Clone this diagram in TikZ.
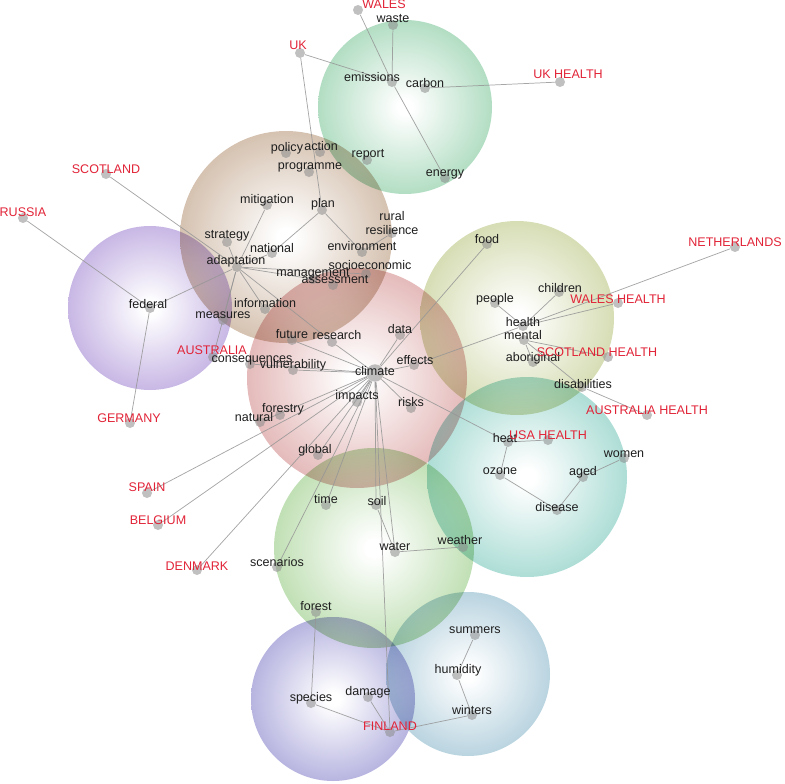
\documentclass[tikz,border=0pt]{standalone}
\usepackage{fontspec}
\setmainfont{Liberation Sans}
\usetikzlibrary{positioning}

\definecolor{wordgray}{RGB}{30,30,30}
\definecolor{placered}{RGB}{225,35,55}
\definecolor{linegray}{RGB}{150,150,150}
\definecolor{dotgray}{RGB}{140,140,140}
\definecolor{carbonGreen}{RGB}{95,185,130}
\definecolor{adaptBrown}{RGB}{168,128,92}
\definecolor{federalPurple}{RGB}{140,105,200}
\definecolor{climateRed}{RGB}{200,112,112}
\definecolor{healthOlive}{RGB}{170,185,100}
\definecolor{heatTeal}{RGB}{85,185,170}
\definecolor{waterGreen}{RGB}{125,190,100}
\definecolor{speciesBlue}{RGB}{105,100,190}
\definecolor{humidityBlue}{RGB}{110,165,190}

\colorlet{bubble}{climateRed}
\pgfdeclareradialshading[bubble]{bubbleshade}{\pgfpoint{0bp}{0bp}}%
  {color(0bp)=(white); color(2bp)=(white); color(50bp)=(bubble)}

\tikzset{
  bubble tint/.code={\colorlet{bubble}{#1}},
  bubble/.style={shading=bubbleshade, bubble tint=#1, opacity=1, blend mode=multiply},
  dot/.style={circle, fill=dotgray, fill opacity=0.55, inner sep=0pt, minimum size=7.5pt},
  word/.style={text=wordgray, font=\fontsize{9.4}{10}\selectfont, inner sep=0pt},
  place/.style={word, text=placered}
}

\begin{document}
\begin{tikzpicture}[x=0.75pt,y=-0.75pt]
	\useasboundingbox (0,0) rectangle (785,784);

	% clusters
	\shade[bubble=carbonGreen] (405,107) circle (87);
	\shade[bubble=adaptBrown] (286,237) circle (106);
	\shade[bubble=federalPurple] (150,308) circle (82);
	\shade[bubble=climateRed] (357,378) circle (110);
	\shade[bubble=healthOlive] (517,318) circle (97);
	\shade[bubble=heatTeal] (527,477) circle (100);
	\shade[bubble=waterGreen] (374,548) circle (100);
	\shade[bubble=speciesBlue] (333,699) circle (82);
	\shade[bubble=humidityBlue] (468,674) circle (82);

	\begin{scope}[every node/.style={dot}]
		\node (wales) at (358,10) {};
		\node (waste) at (393,25) {};
		\node (uk) at (300,53) {};
		\node (emissions) at (392,82) {};
		\node (carbon) at (425,88) {};
		\node (ukhealth) at (560,82) {};
		\node (report) at (367,160) {};
		\node (energy) at (445,178) {};
		\node (policy) at (286,153) {};
		\node (action) at (320,152) {};
		\node (programme) at (309,172) {};
		\node (scotland) at (106,174) {};
		\node (russia) at (23,218) {};
		\node (mitigation) at (267,205) {};
		\node (plan) at (322,210) {};
		\node (resilience) at (392,233) {};
		\node (strategy) at (227,242) {};
		\node (national) at (272,253) {};
		\node (environment) at (362,252) {};
		\node (adaptation) at (237,267) {};
		\node (socioeconomic) at (366,274) {};
		\node (management) at (313,279) {};
		\node (assessment) at (333,285) {};
		\node (federal) at (150,308) {};
		\node (information) at (265,309) {};
		\node (measures) at (223,320) {};
		\node (australia) at (213,357) {};
		\node (future) at (292,340) {};
		\node (research) at (332,342) {};
		\node (data) at (400,335) {};
		\node (consequences) at (250,364) {};
		\node (vulnerability) at (293,370) {};
		\node[minimum size=13pt] (climate) at (375,373) {};
		\node (effects) at (414,365) {};
		\node (impacts) at (357,402) {};
		\node (risks) at (411,408) {};
		\node (forestry) at (280,415) {};
		\node (natural) at (260,422) {};
		\node (global) at (318,455) {};
		\node (germany) at (130,423) {};
		\node (spain) at (147,493) {};
		\node (belgium) at (158,525) {};
		\node (denmark) at (197,570) {};
		\node (food) at (487,244) {};
		\node (netherlands) at (735,247) {};
		\node (children) at (559,292) {};
		\node (people) at (495,303) {};
		\node (waleshealth) at (618,303) {};
		\node (health) at (523,326) {};
		\node (mental) at (524,340) {};
		\node (aboriginal) at (533,362) {};
		\node (scotlandhealth) at (608,357) {};
		\node (disabilities) at (582,387) {};
		\node (australiahealth) at (647,415) {};
		\node (heat) at (508,442) {};
		\node (usahealth) at (548,440) {};
		\node (women) at (624,458) {};
		\node (ozone) at (500,475) {};
		\node (aged) at (583,477) {};
		\node (disease) at (557,510) {};
		\node (time) at (326,505) {};
		\node (soil) at (376,505) {};
		\node (water) at (395,552) {};
		\node (weather) at (463,547) {};
		\node (scenarios) at (277,567) {};
		\node (forest) at (316,612) {};
		\node (summers) at (475,635) {};
		\node (humidity) at (457,675) {};
		\node (species) at (311,703) {};
		\node (damage) at (368,697) {};
		\node (winters) at (472,715) {};
		\node (finland) at (390,732) {};
	\end{scope}

	\begin{scope}[every edge/.style={draw=linegray, line width=0.55pt, draw opacity=0.85}]
		\path (wales) edge (emissions);
		\path (emissions) edge (energy);
		\path (waste) edge (emissions);
		\path (uk) edge (emissions);
		\path (uk) edge (plan);
		\path (carbon) edge (ukhealth);
		\path (scotland) edge (adaptation);
		\path (russia) edge (federal);
		\path (federal) edge (adaptation);
		\path (federal) edge (germany);
		\path (plan) edge (national);
		\path (plan) edge (environment);
		\path (environment) edge (resilience);
		\path (research) edge (adaptation);
		\path (health) edge (netherlands);
		\path (health) edge (waleshealth);
		\path (health) edge (effects);
		\path (health) edge (children);
		\path (health) edge (people);
		\path (mental) edge (aboriginal);
		\path (mental) edge (scotlandhealth);
		\path (mental) edge (disabilities);
		\path (disabilities) edge (australiahealth);
		\path (heat) edge (usahealth);
		\path (heat) edge (ozone);
		\path (ozone) edge (disease);
		\path (disease) edge (aged);
		\path (aged) edge (women);
		\path (soil) edge (water);
		\path (water) edge (weather);
		\path (forest) edge (species);
		\path (species) edge (finland);
		\path (damage) edge (finland);
		\path (finland) edge (winters);
		\path (winters) edge (humidity);
		\path (humidity) edge (summers);
		\foreach \i in {strategy,mitigation,national,socioeconomic,management,information,measures,australia}{\path (adaptation) edge (\i);}
		\foreach \i in {future,research,data,food,effects,vulnerability,consequences,impacts,risks,heat,natural,spain,belgium,denmark,global,time,scenarios,soil,water,finland}{\path (climate) edge (\i);}
	\end{scope}

	% keywords
	\node[place] at (384,4) {WALES};
	\node[word] at (393,19) {waste};
	\node[place] at (298,45) {UK};
	\node[word] at (372,77) {emissions};
	\node[word] at (425,83) {carbon};
	\node[place] at (568,74) {UK HEALTH};
	\node[word] at (368,155) {report};
	\node[word] at (445,174) {energy};
	\node[word] at (287,148) {policy};
	\node[word] at (321,146) {action};
	\node[word] at (310,167) {programme};
	\node[place] at (106,169) {SCOTLAND};
	\node[place] at (23,212) {RUSSIA};
	\node[word] at (267,200) {mitigation};
	\node[word] at (323,204) {plan};
	\node[word, align=center] at (392,223) {rural\\resilience};
	\node[word] at (227,236) {strategy};
	\node[word] at (272,248) {national};
	\node[word] at (362,246) {environment};
	\node[word] at (236,261) {adaptation};
	\node[word] at (370,265) {socioeconomic};
	\node[word] at (313,274) {management};
	\node[word] at (335,280) {assessment};
	\node[word] at (148,304) {federal};
	\node[word] at (265,303) {information};
	\node[word] at (223,315) {measures};
	\node[place] at (212,350) {AUSTRALIA};
	\node[word] at (292,334) {future};
	\node[word] at (337,335) {research};
	\node[word] at (400,329) {data};
	\node[word] at (252,360) {consequences};
	\node[word] at (293,365) {vulnerability};
	\node[word] at (375,371) {climate};
	\node[word] at (415,360) {effects};
	\node[word] at (357,396) {impacts};
	\node[word] at (411,402) {risks};
	\node[word] at (283,409) {forestry};
	\node[word] at (254,417) {natural};
	\node[word] at (315,450) {global};
	\node[place] at (129,418) {GERMANY};
	\node[place] at (147,487) {SPAIN};
	\node[place] at (158,520) {BELGIUM};
	\node[place] at (197,566) {DENMARK};
	\node[word] at (487,239) {food};
	\node[place] at (735,242) {NETHERLANDS};
	\node[word] at (560,288) {children};
	\node[word] at (495,299) {people};
	\node[place] at (618,299) {WALES HEALTH};
	\node[word] at (523,322) {health};
	\node[word] at (523,335) {mental};
	\node[word] at (533,358) {aboriginal};
	\node[place] at (597,352) {SCOTLAND HEALTH};
	\node[word] at (583,384) {disabilities};
	\node[place] at (647,410) {AUSTRALIA HEALTH};
	\node[word] at (505,438) {heat};
	\node[place] at (548,435) {USA HEALTH};
	\node[word] at (624,454) {women};
	\node[word] at (500,471) {ozone};
	\node[word] at (583,472) {aged};
	\node[word] at (557,507) {disease};
	\node[word] at (326,499) {time};
	\node[word] at (377,501) {soil};
	\node[word] at (395,547) {water};
	\node[word] at (460,540) {weather};
	\node[word] at (277,562) {scenarios};
	\node[word] at (316,606) {forest};
	\node[word] at (475,630) {summers};
	\node[word] at (458,670) {humidity};
	\node[word] at (311,698) {species};
	\node[word] at (368,692) {damage};
	\node[word] at (472,710) {winters};
	\node[place] at (390,726) {FINLAND};
\end{tikzpicture}
\end{document}
